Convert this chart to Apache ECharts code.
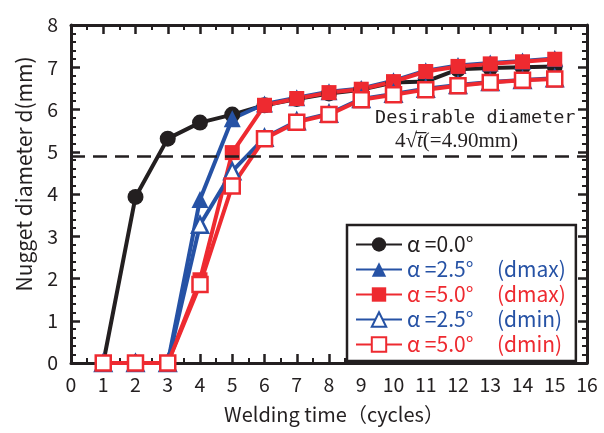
<!DOCTYPE html>
<html>
<head>
<meta charset="utf-8">
<script src="https://cdn.jsdelivr.net/npm/echarts@6/dist/echarts.min.js"></script>
<style>html,body{margin:0;padding:0;background:#fff;}#c{width:604px;height:433px;}</style>
</head>
<body>
<div id="c"></div>
<script>
const cycles = [1,2,3,4,5,6,7,8,9,10,11,12,13,14,15];
const alpha00 = [0,3.93,5.31,5.69,5.88,6.1,6.25,6.38,6.47,6.64,6.66,6.95,6.98,7.0,7.02];
const alpha25Max = [0,0,0,3.87,5.78,6.13,6.28,6.42,6.5,6.68,6.92,7.04,7.1,7.15,7.21];
const alpha50Max = [0,0,0,1.97,4.98,6.1,6.26,6.4,6.48,6.66,6.9,7.02,7.08,7.13,7.19];
const alpha25Min = [0,0,0,3.27,4.54,5.33,5.72,5.9,6.25,6.37,6.49,6.58,6.65,6.7,6.74];
const alpha50Min = [0,0,0,1.86,4.19,5.31,5.7,5.88,6.23,6.35,6.47,6.56,6.64,6.69,6.72];
const desirable = 4.9;
const xTicks = {min:0, max:16, interval:1};
const yTicks = {min:0, max:8, interval:1};
const seriesNames = ['α =0.0°','α =2.5° (dmax)','α =5.0° (dmax)','α =2.5° (dmin)','α =5.0° (dmin)'];

const K = '#231f20', B = '#2652a5', R = '#ee2a30';
const CJK = "'Noto Sans CJK JP', 'Noto Sans', sans-serif";
const pair = ys => cycles.map((x,i)=>[x, ys[i]]);

const chart = echarts.init(document.getElementById('c'), null, {renderer:'canvas'});

function axisX(pos, showLabel){
  return {
    type:'value', position:pos, min:xTicks.min, max:xTicks.max, interval:xTicks.interval,
    axisLine:{show:true, onZero:false, lineStyle:{color:K, width:3}},
    axisTick:{show:true, inside:true, length:9, lineStyle:{color:K, width:2.5}},
    minorTick:{show:true, splitNumber:2, length:5, lineStyle:{color:K, width:2}},
    splitLine:{show:false}, minorSplitLine:{show:false},
    axisLabel:{show:showLabel, color:K, fontSize:19.5, fontFamily:CJK, margin:12}
  };
}
function axisY(pos, showLabel){
  return {
    type:'value', position:pos, min:yTicks.min, max:yTicks.max, interval:yTicks.interval,
    axisLine:{show:true, onZero:false, lineStyle:{color:K, width:3}},
    axisTick:{show:true, inside:true, length:9, lineStyle:{color:K, width:2.5}},
    minorTick:{show:true, splitNumber:5, length:5, lineStyle:{color:K, width:2}},
    splitLine:{show:false}, minorSplitLine:{show:false},
    axisLabel:{show:showLabel, color:K, fontSize:19.5, fontFamily:CJK, margin:13, padding:[0,0,6,0]}
  };
}

function ser(name, data, color, symbol, size, hollow){
  return {
    name, type:'line', data:pair(data), xAxisIndex:0, yAxisIndex:0,
    symbol, symbolSize:size, showSymbol:true,
    lineStyle:{color, width:4},
    itemStyle: hollow ? {color:'#fff', borderColor:color, borderWidth:2.5} : {color, borderColor:color, borderWidth:0},
    emphasis:{disabled:true}, animation:false, z:3
  };
}

const s0 = ser(seriesNames[0], alpha00, K, 'circle', 16, false);
s0.markLine = {
  silent:true, symbol:['none','none'], label:{show:false},
  lineStyle:{color:K, width:2.5, type:[14,8]},
  data:[{yAxis:desirable}], animation:false
};

const rich = {
  k:{color:K, fontSize:21, fontFamily:CJK, lineHeight:20},
  b:{color:B, fontSize:21, fontFamily:CJK, lineHeight:20},
  r:{color:R, fontSize:21, fontFamily:CJK, lineHeight:20}
};
const legendFmt = {};
legendFmt[seriesNames[0]] = '{k|α =0.0°}';
legendFmt[seriesNames[1]] = '{b|α =2.5°     (dmax)}';
legendFmt[seriesNames[2]] = '{r|α =5.0°     (dmax)}';
legendFmt[seriesNames[3]] = '{b|α =2.5°     (dmin)}';
legendFmt[seriesNames[4]] = '{r|α =5.0°     (dmin)}';

chart.setOption({
  animation:false,
  backgroundColor:'#fff',
  grid:{left:71, right:17, top:25, bottom:70, containLabel:false},
  xAxis:[axisX('bottom', true), axisX('top', false)],
  yAxis:[axisY('left', true), axisY('right', false)],
  legend:{
    show:true, orient:'vertical', left:347, top:225,
    data:seriesNames, selectedMode:false,
    itemWidth:46, itemHeight:18, itemGap:4,
    padding:[9,10,6,8],
    backgroundColor:'#fff', borderColor:K, borderWidth:2.5, borderRadius:0,
    formatter: n => legendFmt[n],
    textStyle:{rich, fontSize:21, lineHeight:20, fontFamily:CJK}
  },
  graphic:[
    {type:'text', z:10, silent:true, position:[24,174], rotation:Math.PI/2,
      style:{text:'Nugget diameter d(mm)', x:0, y:0, fill:K, font:"21px 'Noto Sans CJK JP'", textAlign:'center', textVerticalAlign:'middle'}},
    {type:'text', z:10, silent:true, position:[334,414],
      style:{text:'Welding time（cycles）', x:0, y:0, fill:K, font:"20px 'Noto Sans CJK JP'", textAlign:'center', textVerticalAlign:'middle'}},
    {type:'text', z:10, silent:true, position:[375,118],
      style:{text:'Desirable diameter', x:0, y:0, fill:K, font:"18.5px 'DejaVu Sans Mono'", textAlign:'left', textVerticalAlign:'middle'}},
    {type:'text', z:10, silent:true, position:[395,141],
      style:{text:'4√{t|t\u0305}(=4.90mm)', x:0, y:0, fill:K, font:"21px 'Liberation Serif'", textAlign:'left', textVerticalAlign:'middle',
        rich:{t:{fontStyle:'italic', fontFamily:'Liberation Serif', fontSize:21, fill:K}}}}
  ],
  series:[
    s0,
    ser(seriesNames[1], alpha25Max, B, 'triangle', 17, false),
    ser(seriesNames[2], alpha50Max, R, 'rect', 15, false),
    ser(seriesNames[3], alpha25Min, B, 'triangle', 16, true),
    ser(seriesNames[4], alpha50Min, R, 'rect', 15, true)
  ]
});
</script>
</body>
</html>
